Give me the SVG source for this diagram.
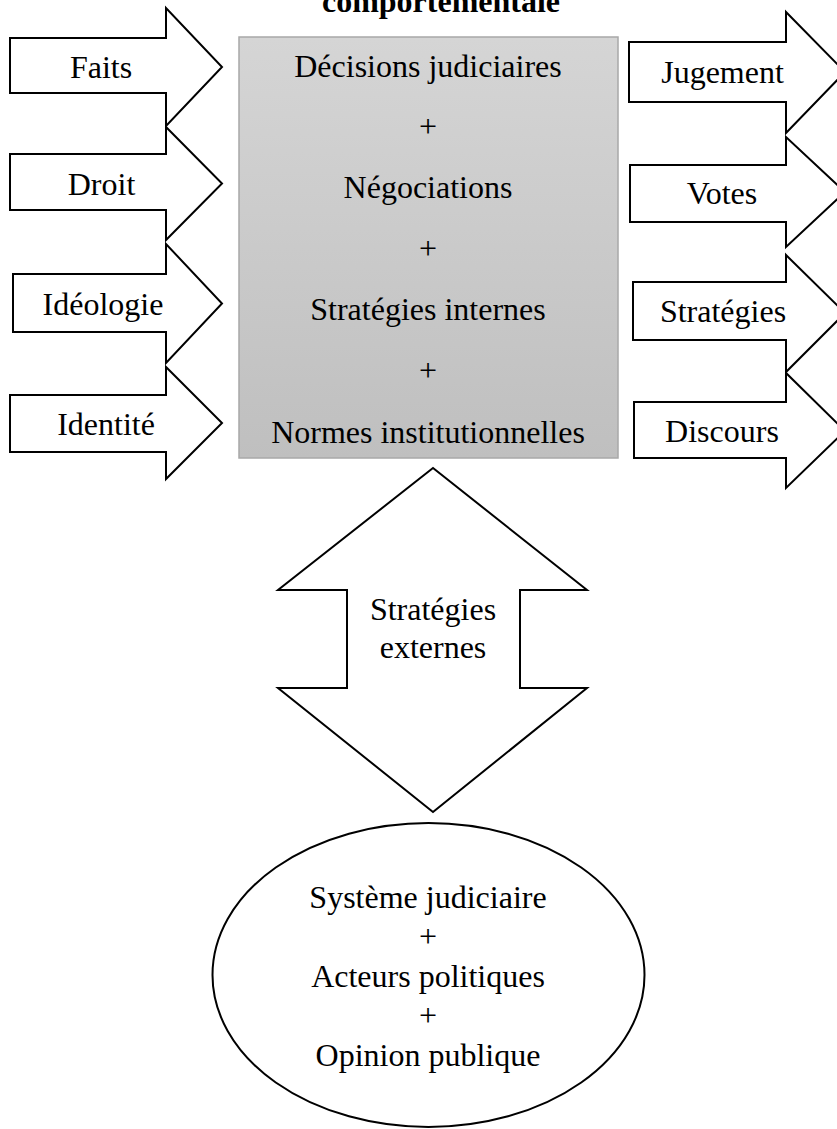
<svg xmlns="http://www.w3.org/2000/svg" width="837" height="1129" viewBox="0 0 837 1129">
  <style>
    .arrow { fill: #ffffff; stroke: #000000; stroke-width: 2; stroke-linejoin: miter; }
    .t { font-family: "Liberation Serif", "Times New Roman", serif; font-size: 32px; fill: #000000; text-anchor: middle; }
    .title { font-weight: bold; }
  </style>
  <defs>
    <linearGradient id="boxGrad" x1="0" y1="0" x2="0" y2="1">
      <stop offset="0" stop-color="#d5d5d5"/>
      <stop offset="1" stop-color="#bfbfbf"/>
    </linearGradient>
  </defs>
  <rect width="837" height="1129" fill="#ffffff"/>

  <g id="title">
    <text class="t title" x="441" y="11.5">comportementale</text>
  </g>

  <g id="central-box">
    <rect x="239" y="37" width="379" height="421" fill="url(#boxGrad)" stroke="#a8a8a8" stroke-width="1.5"/>
    <text class="t" x="428" y="77">Décisions judiciaires</text>
    <text class="t" x="428" y="137">+</text>
    <text class="t" x="428" y="198">Négociations</text>
    <text class="t" x="428" y="259">+</text>
    <text class="t" x="428" y="320">Stratégies internes</text>
    <text class="t" x="428" y="381">+</text>
    <text class="t" x="428" y="442.5">Normes institutionnelles</text>
  </g>

  <g id="connectors">
    <g id="in-faits">
      <path class="arrow" d="M10,38 H166 V8 L222,67 L166,126 V93 H10 Z"/>
      <text class="t" x="101" y="78">Faits</text>
    </g>
    <g id="in-droit">
      <path class="arrow" d="M10,154 H166 V127 L222,183.5 L166,240 V210 H10 Z"/>
      <text class="t" x="101.5" y="195">Droit</text>
    </g>
    <g id="in-ideologie">
      <path class="arrow" d="M13,274 H166 V244 L222,303.5 L166,363 V332 H13 Z"/>
      <text class="t" x="103" y="315">Idéologie</text>
    </g>
    <g id="in-identite">
      <path class="arrow" d="M10,395 H166 V367 L222,423 L166,479 V452 H10 Z"/>
      <text class="t" x="106" y="435">Identité</text>
    </g>
    <g id="out-jugement">
      <path class="arrow" d="M629,42 H786 V12 L845,72 L786,133 V102 H629 Z"/>
      <text class="t" x="722.5" y="83">Jugement</text>
    </g>
    <g id="out-votes">
      <path class="arrow" d="M630,165 H786 V137 L845,192 L786,247 V222 H630 Z"/>
      <text class="t" x="722" y="204">Votes</text>
    </g>
    <g id="out-strategies">
      <path class="arrow" d="M633,282 H786 V255 L845,313 L786,372 V340 H633 Z"/>
      <text class="t" x="723" y="322">Stratégies</text>
    </g>
    <g id="out-discours">
      <path class="arrow" d="M634,402 H786 V373 L845,431 L786,488 V458 H634 Z"/>
      <text class="t" x="722" y="441.5">Discours</text>
    </g>
    <g id="strategies-externes">
      <path class="arrow" d="M433,468 L278,590 H347 V688 H278 L433,812 L587,688 H520 V590 H587 Z"/>
      <text class="t" x="433" y="620">Stratégies</text>
      <text class="t" x="433" y="658">externes</text>
    </g>
  </g>

  <g id="environment">
    <ellipse cx="428.5" cy="975" rx="216" ry="152" fill="#ffffff" stroke="#000000" stroke-width="2"/>
    <text class="t" x="428" y="908">Système judiciaire</text>
    <text class="t" x="428" y="947">+</text>
    <text class="t" x="428" y="987">Acteurs politiques</text>
    <text class="t" x="428" y="1026">+</text>
    <text class="t" x="428" y="1066">Opinion publique</text>
  </g>
</svg>
